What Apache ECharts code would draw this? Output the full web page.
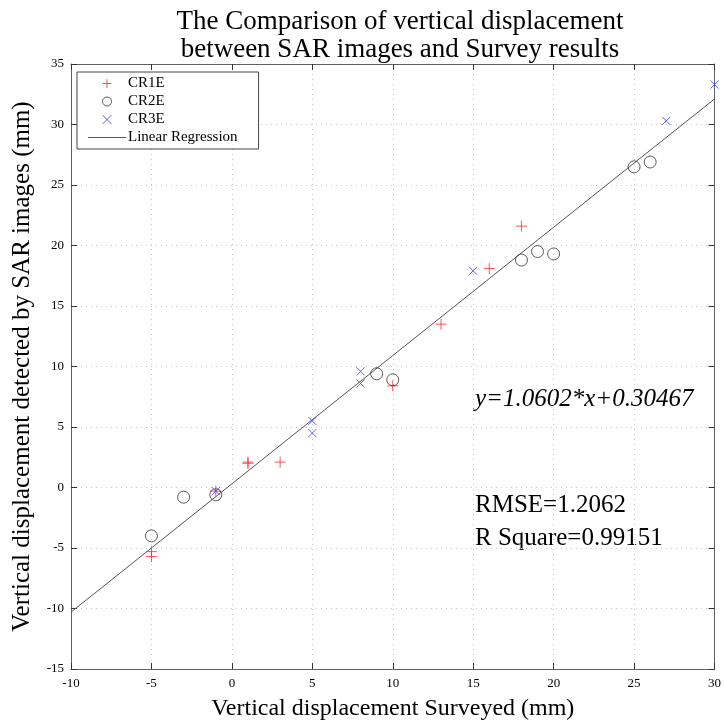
<!DOCTYPE html>
<html>
<head>
<meta charset="utf-8">
<script src="https://cdn.jsdelivr.net/npm/echarts@6/dist/echarts.min.js"></script>
<style>
  html, body { margin: 0; padding: 0; background: #fff; }
  #chart { width: 724px; height: 726px; }
</style>
</head>
<body>
<div id="chart"></div>
<script>
// values
var cr1eX = [-5, -5, -1, 1, 1, 3, 10, 13, 16, 18];
var cr1eY = [-5.3, -5.7, -0.3, 2.0, 2.1, 2.1, 8.4, 13.5, 18.1, 21.6];
var cr2eX = [-5, -3, -1, 9, 10, 18, 19, 20, 25, 26];
var cr2eY = [-4.0, -0.8, -0.6, 9.4, 8.9, 18.8, 19.5, 19.3, 26.5, 26.9];
var cr3eX = [-1, 5, 5, 8, 8, 15, 27, 30];
var cr3eY = [-0.3, 5.5, 4.5, 9.6, 8.6, 17.9, 30.3, 33.3];
// regression line end points
var regX = [-10, 30];
var regY = [-10.30, 32.11];

var seriesNames = ['CR1E', 'CR2E', 'CR3E', 'Linear Regression'];
var titleLines = ['The Comparison of vertical displacement', 'between SAR images and Survey results'];
var xName = 'Vertical displacement Surveyed (mm)';
var yName = 'Vertical displacement detected by SAR images (mm)';
var noteEq = 'y=1.0602*x+0.30467';
var noteRmse = 'RMSE=1.2062';
var noteR2 = 'R Square=0.99151';

function pairs(xs, ys) {
	var out = [];
	for (let i = 0; i < xs.length; i++) {
		out.push([xs[i], ys[i]]);
	}
	return out;
}

var serif = 'Liberation Serif';
var frame = '#606060';
var plusIcon = 'path://M0,5L10,5M5,0L5,10';
var crossIcon = 'path://M0,0L10,10M10,0L0,10';
var lineIcon = 'path://M0,0L38,0L38,1L0,1Z';

var chart = echarts.init(document.getElementById('chart'));

function axisBase(pos, withLabels) {
	return {
		type: 'value',
		position: pos,
		min: pos === 'left' || pos === 'right' ? -15 : -10,
		max: pos === 'left' || pos === 'right' ? 35 : 30,
		interval: 5,
		axisLine: { show: true, onZero: false, lineStyle: { color: frame, width: 1 } },
		axisTick: { show: true, inside: true, length: 6, lineStyle: { color: '#333' } },
		axisLabel: {
			show: withLabels,
			fontFamily: serif,
			fontSize: 13,
			color: '#000',
			margin: pos === 'bottom' ? 8 : 7
		},
		splitLine: {
			show: withLabels,
			lineStyle: { color: '#c8c8c8', type: [1, 4], width: 1 }
		}
	};
}

var xBottom = axisBase('bottom', true);
xBottom.name = xName;
xBottom.nameLocation = 'middle';
xBottom.nameGap = 28;
xBottom.nameTextStyle = { fontFamily: serif, fontSize: 24, color: '#000' };

var yLeft = axisBase('left', true);
yLeft.name = yName;
yLeft.nameLocation = 'middle';
yLeft.nameGap = 36;
yLeft.nameTextStyle = { fontFamily: serif, fontSize: 25, color: '#000' };

chart.setOption({
	backgroundColor: '#fff',
	animation: false,
	title: {
		text: titleLines.join('\n'),
		left: 395,
		textAlign: 'center',
		top: 3,
		textStyle: { fontFamily: serif, fontSize: 27, fontWeight: 'normal', color: '#000', lineHeight: 28 }
	},
	grid: { left: 71, right: 8, top: 64, bottom: 54, containLabel: false },
	legend: {
		orient: 'vertical',
		left: 77,
		top: 72,
		padding: [4, 21, 4, 11],
		itemWidth: 38,
		itemHeight: 9,
		itemGap: 3,
		backgroundColor: '#fff',
		borderColor: '#444',
		borderWidth: 1,
		borderRadius: 0,
		itemStyle: { borderWidth: 1 },
		textStyle: { fontFamily: serif, fontSize: 15, color: '#000', padding: [0, 0, 0, -3] },
		data: [
			{ name: seriesNames[0] },
			{ name: seriesNames[1] },
			{ name: seriesNames[2] },
			{ name: seriesNames[3], icon: lineIcon, itemStyle: { color: '#555', borderWidth: 0 } }
		]
	},
	xAxis: [xBottom, axisBase('top', false)],
	yAxis: [yLeft, axisBase('right', false)],
	series: [{
		name: 'CR1E',
		type: 'scatter',
		clip: false,
		symbol: plusIcon,
		symbolSize: 11,
		itemStyle: { color: 'transparent', borderColor: '#ff2a2a', borderWidth: 1 },
		data: pairs(cr1eX, cr1eY),
		z: 3
	}, {
		name: 'CR2E',
		type: 'scatter',
		clip: false,
		symbol: 'circle',
		symbolSize: 12,
		itemStyle: { color: 'transparent', borderColor: '#333', borderWidth: 1 },
		data: pairs(cr2eX, cr2eY),
		z: 3
	}, {
		name: 'Linear Regression',
		type: 'line',
		symbol: 'none',
		showSymbol: false,
		lineStyle: { color: '#555', width: 1 },
		itemStyle: { color: '#555' },
		data: pairs(regX, regY),
		z: 2
	}, {
		name: 'CR3E',
		type: 'scatter',
		clip: false,
		symbol: crossIcon,
		symbolSize: 8,
		itemStyle: { color: 'transparent', borderColor: '#3a3aff', borderWidth: 1 },
		data: pairs(cr3eX, cr3eY),
		z: 4
	}],
	graphic: [{
		type: 'text',
		left: 475,
		top: 387,
		style: { text: noteEq, font: 'italic 25px "Liberation Serif"', fill: '#000' }
	}, {
		type: 'text',
		left: 475,
		top: 493,
		style: { text: noteRmse, font: '25px "Liberation Serif"', fill: '#000' }
	}, {
		type: 'text',
		left: 475,
		top: 526,
		style: { text: noteR2, font: '25px "Liberation Serif"', fill: '#000' }
	}]
});
</script>
</body>
</html>
